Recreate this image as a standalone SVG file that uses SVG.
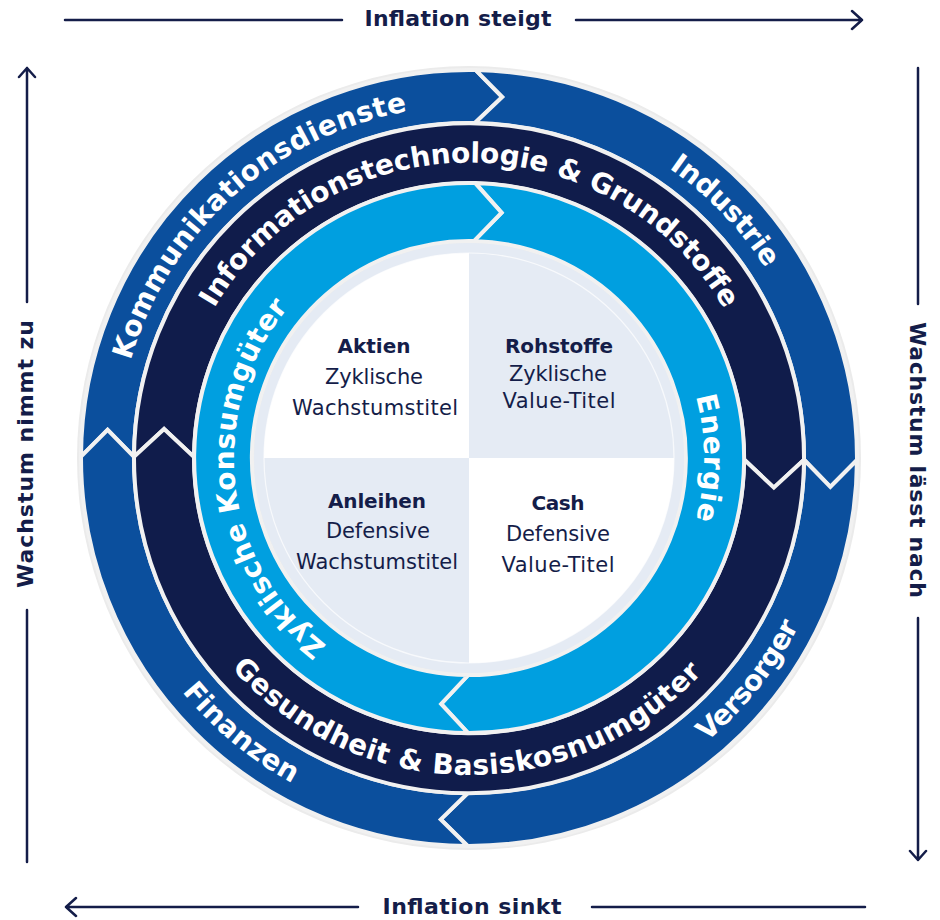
<svg xmlns="http://www.w3.org/2000/svg" width="940" height="920" viewBox="0 0 940 920">
<style>
.seg{stroke:#f1f1f1;stroke-width:4;stroke-linejoin:miter}
.outer{fill:#0b4f9d}
.mid{fill:#101c4b}
.inner{fill:#009fe0}
.arc{font-family:"DejaVu Sans",sans-serif;font-weight:700;font-size:28px;fill:#ffffff}
.ttl{font-family:"DejaVu Sans",sans-serif;font-weight:700;font-size:20px;fill:#141d49;text-anchor:middle}
.sub{font-family:"DejaVu Sans",sans-serif;font-size:21px;fill:#141d49;text-anchor:middle}
.ax{font-family:"DejaVu Sans",sans-serif;font-weight:700;font-size:22px;fill:#141d49;text-anchor:middle}
.ln{stroke:#141d49;stroke-width:2.5;fill:none;stroke-linecap:round;stroke-linejoin:round}
</style>
<defs>
<path id="oCw" d="M469 810 A352 352 0 1 1 469 106 A352 352 0 1 1 469 810"/>
<path id="oCcw" d="M469 88 A370 370 0 1 0 469 828 A370 370 0 1 0 469 88"/>
<path id="mCw" d="M469 753.5 A295.5 295.5 0 1 1 469 162.5 A295.5 295.5 0 1 1 469 753.5"/>
<path id="mCcw" d="M469 141 A317 317 0 1 0 469 775 A317 317 0 1 0 469 141"/>
<path id="iCw" d="M469 693 A235 235 0 1 1 469 223 A235 235 0 1 1 469 693"/>
</defs>

<circle cx="469" cy="458" r="392" fill="#ebebeb"/>

<g id="kommunikationsdienste">
<path class="seg outer" d="M81.0 456.65 A388 388 0 0 1 475.77 70.06 L502.3 97.03 L474.85 123.05 A335 335 0 0 0 134.0 456.83 L107.6 429.75 Z"/>
<text class="arc"><textPath href="#oCw" startOffset="38.333%" text-anchor="middle" textLength="392" lengthAdjust="spacing">Kommunikationsdienste</textPath></text>
</g>
<g id="industrie">
<path class="seg outer" d="M475.77 70.06 A388 388 0 0 1 856.99 460.03 L830.35 486.88 L804.0 459.75 A335 335 0 0 0 474.85 123.05 L502.3 97.03 Z"/>
<text class="arc"><textPath href="#oCw" startOffset="62.778%" text-anchor="middle" textLength="140" lengthAdjust="spacing">Industrie</textPath></text>
</g>
<g id="versorger">
<path class="seg outer" d="M856.99 460.03 A388 388 0 0 1 467.65 846.0 L440.75 819.4 L467.83 793.0 A335 335 0 0 0 804.0 459.75 L830.35 486.88 Z"/>
<text class="arc"><textPath href="#oCcw" startOffset="64.306%" text-anchor="middle" textLength="149" lengthAdjust="spacing">Versorger</textPath></text>
</g>
<g id="finanzen">
<path class="seg outer" d="M467.65 846.0 A388 388 0 0 1 81.0 456.65 L107.6 429.75 L134.0 456.83 A335 335 0 0 0 467.83 793.0 L440.75 819.4 Z"/>
<text class="arc"><textPath href="#oCcw" startOffset="38.972%" text-anchor="middle" textLength="144" lengthAdjust="spacing">Finanzen</textPath></text>
</g>

<g id="informationstechnologie-grundstoffe">
<path class="seg mid" d="M134.0 456.83 A335 335 0 1 1 804.0 459.75 L773.87 487.6 L744.0 459.44 A275 275 0 1 0 194.0 457.04 L164.08 428.93 Z"/>
<text class="arc"><textPath href="#mCw" startOffset="50.028%" text-anchor="middle" textLength="615" lengthAdjust="spacing">Informationstechnologie &amp; Grundstoffe</textPath></text>
</g>
<g id="gesundheit-basiskonsumgueter">
<path class="seg mid" d="M804.0 459.75 A335 335 0 0 1 134.0 456.83 L164.08 428.93 L194.0 457.04 A275 275 0 0 0 744.0 459.44 L773.87 487.6 Z"/>
<text class="arc"><textPath href="#mCcw" startOffset="49.847%" text-anchor="middle" textLength="530" lengthAdjust="spacing">Gesundheit &amp; Basiskosnumgüter</textPath></text>
</g>

<g id="energie">
<path class="seg inner" d="M475.24 183.07 A275 275 0 0 1 468.04 733.0 L441.14 703.93 L468.24 675.0 A217 217 0 0 0 473.92 241.06 L501.58 212.65 Z"/>
<text class="arc"><textPath href="#iCw" startOffset="75%" text-anchor="middle" textLength="125" lengthAdjust="spacing">Energie</textPath></text>
</g>
<g id="zyklische-konsumgueter">
<path class="seg inner" d="M468.04 733.0 A275 275 0 1 1 475.24 183.07 L501.58 212.65 L473.92 241.06 A217 217 0 1 0 468.24 675.0 L441.14 703.93 Z"/>
<text class="arc"><textPath href="#iCw" startOffset="23.194%" text-anchor="middle" textLength="380" lengthAdjust="spacing">Zyklische Konsumgüter</textPath></text>
</g>

<g id="core">
<circle cx="469" cy="458" r="215" fill="#e5ebf4"/>
<path d="M469 458 L264 458 A205 205 0 0 1 469 253 Z" fill="#ffffff"/>
<path d="M469 458 L674 458 A205 205 0 0 1 469 663 Z" fill="#ffffff"/>
<circle cx="469" cy="458" r="205" fill="none" stroke="#ffffff" stroke-width="1.2" opacity="0.7"/>
</g>

<g id="aktien">
<text class="ttl" x="374" y="353" textLength="73" lengthAdjust="spacing">Aktien</text>
<text class="sub" x="374" y="384" textLength="98" lengthAdjust="spacing">Zyklische</text>
<text class="sub" x="375" y="415" textLength="166" lengthAdjust="spacing">Wachstumstitel</text>
</g>
<g id="rohstoffe">
<text class="ttl" x="559" y="353" textLength="108" lengthAdjust="spacing">Rohstoffe</text>
<text class="sub" x="558" y="381" textLength="98" lengthAdjust="spacing">Zyklische</text>
<text class="sub" x="559" y="408" textLength="113" lengthAdjust="spacing">Value-Titel</text>
</g>
<g id="anleihen">
<text class="ttl" x="377" y="508" textLength="98" lengthAdjust="spacing">Anleihen</text>
<text class="sub" x="378" y="538" textLength="104" lengthAdjust="spacing">Defensive</text>
<text class="sub" x="377" y="569" textLength="162" lengthAdjust="spacing">Wachstumstitel</text>
</g>
<g id="cash">
<text class="ttl" x="558" y="510" textLength="53" lengthAdjust="spacing">Cash</text>
<text class="sub" x="558" y="541" textLength="104" lengthAdjust="spacing">Defensive</text>
<text class="sub" x="558" y="572" textLength="113" lengthAdjust="spacing">Value-Titel</text>
</g>

<g id="connectors">
<path class="ln" d="M65 20 H342 M576 20 H862 M852 11 L862 20 L852 29"/>
<path class="ln" d="M66 907 H358 M592 907 H865 M76 898 L66 907 L76 916"/>
<path class="ln" d="M27 68 V302 M27 610 V862 M19 77 L27 68 L35 77"/>
<path class="ln" d="M918 68 V304 M918 618 V860 M910 851 L918 860 L926 851"/>
</g>
<g id="axis-labels">
<text class="ax" x="458" y="26" textLength="187" lengthAdjust="spacing">Inflation steigt</text>
<text class="ax" x="472" y="914" textLength="179" lengthAdjust="spacing">Inflation sinkt</text>
<text class="ax" transform="translate(33 454) rotate(-90)" textLength="268" lengthAdjust="spacing">Wachstum nimmt zu</text>
<text class="ax" transform="translate(910 460) rotate(90)" textLength="276" lengthAdjust="spacing">Wachstum lässt nach</text>
</g>
</svg>
